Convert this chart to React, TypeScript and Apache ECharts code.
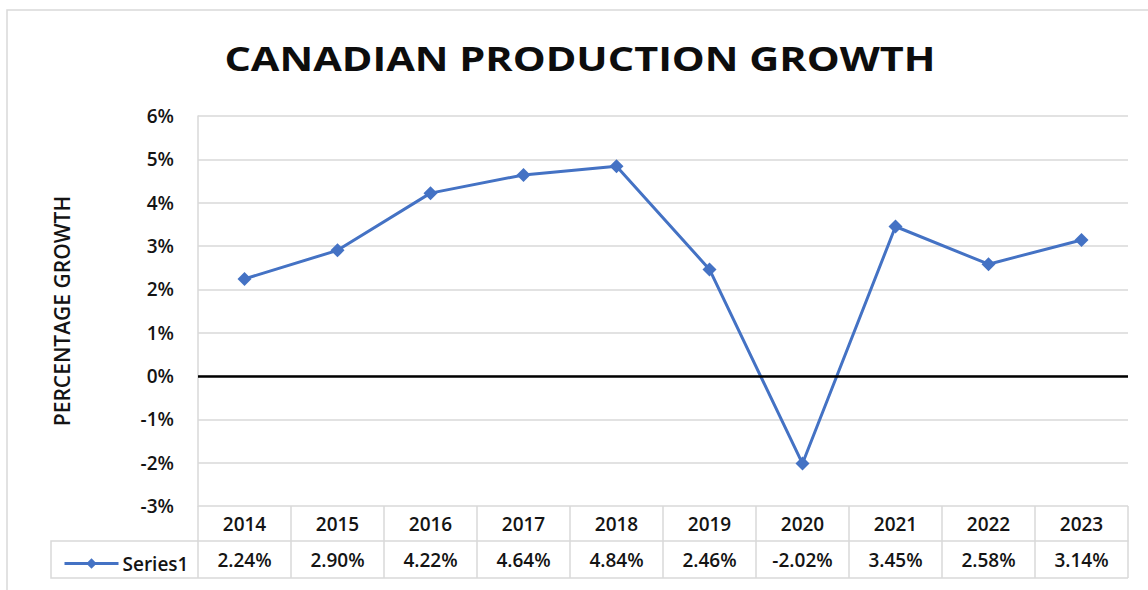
import React, { useEffect, useRef } from "react";
import * as echarts from "echarts";

const title = "CANADIAN PRODUCTION GROWTH";
const yAxisTitle = "PERCENTAGE GROWTH";
const seriesName = "Series1";
const categories = ["2014", "2015", "2016", "2017", "2018", "2019", "2020", "2021", "2022", "2023"];
const values = [2.24, 2.9, 4.22, 4.64, 4.84, 2.46, -2.02, 3.45, 2.58, 3.14];
const yMin = -3;
const yMax = 6;
const yStep = 1;

const FONT = "'Open Sans', 'Noto Sans', sans-serif";
const GRID = "#d9d9d9";
const TEXT = "#141414";
const BLUE = "#4472C4";

export default function App() {
  const ref = useRef<HTMLDivElement>(null);
  useEffect(() => {
    if (!ref.current) return;
    const chart = echarts.init(ref.current, undefined, { renderer: "svg" });
    const gridLeft = 198, gridTop = 116, gridRight = 20, gridBottom = 84;
    const plotBottom = 590 - gridBottom;
    chart.setOption({
      animation: false,
      backgroundColor: "#ffffff",
      textStyle: { fontFamily: FONT },
      legend: {
        left: 58,
        top: plotBottom + 43,
        itemWidth: 54,
        itemHeight: 13,
        itemGap: 4,
        lineStyle: { width: 3 },
        textStyle: { fontFamily: FONT, fontSize: 19, fontWeight: 600, color: TEXT, padding: [0, 0, 0, -1] },
        data: [seriesName],
      },
      grid: { left: gridLeft, top: gridTop, right: gridRight, bottom: gridBottom, containLabel: false },
      xAxis: [
        {
          type: "category",
          data: categories,
          position: "bottom",
          boundaryGap: true,
          axisLine: { show: false, onZero: false },
          axisTick: { show: true, length: 35, lineStyle: { color: GRID, width: 1.5 } },
          axisLabel: { margin: 8, fontFamily: FONT, fontSize: 19, fontWeight: 600, color: TEXT },
          splitLine: { show: false },
        },
        {
          type: "category",
          data: values.map((v) => v.toFixed(2) + "%"),
          position: "bottom",
          offset: 35,
          boundaryGap: true,
          axisLine: { show: true, onZero: false, lineStyle: { color: GRID, width: 1.5 } },
          axisTick: { show: true, length: 37, lineStyle: { color: GRID, width: 1.5 } },
          axisLabel: { margin: 9, fontFamily: FONT, fontSize: 19, fontWeight: 600, color: TEXT },
          splitLine: { show: false },
        },
      ],
      yAxis: {
        type: "value",
        min: yMin,
        max: yMax,
        interval: yStep,
        name: yAxisTitle,
        nameLocation: "middle",
        nameGap: 126,
        nameTextStyle: { fontFamily: FONT, fontSize: 21, fontWeight: 600, color: TEXT },
        axisLine: { show: true, lineStyle: { color: GRID, width: 1.5 } },
        axisTick: { show: false },
        axisLabel: { margin: 24, formatter: "{value}%", fontFamily: FONT, fontSize: 19, fontWeight: 600, color: TEXT },
        splitLine: { show: true, lineStyle: { color: GRID, width: 1.5 } },
      },
      series: [
        {
          name: seriesName,
          type: "line",
          xAxisIndex: 0,
          data: values,
          symbol: "diamond",
          symbolSize: 14,
          lineStyle: { color: BLUE, width: 3 },
          itemStyle: { color: BLUE },
          markLine: {
            silent: true,
            symbol: "none",
            label: { show: false },
            lineStyle: { color: "#000000", width: 2.5, type: "solid" },
            data: [{ yAxis: 0 }],
          },
          z: 3,
        },
      ],
      graphic: [
        {
          type: "rect",
          shape: { x: 7, y: 10, width: 1160, height: 600 },
          style: { fill: "none", stroke: GRID, lineWidth: 1.5 },
          silent: true,
        },
        {
          type: "polyline",
          shape: { points: [[gridLeft, plotBottom + 35], [51, plotBottom + 35], [51, plotBottom + 72], [1148 - gridRight, plotBottom + 72]] },
          style: { fill: "none", stroke: GRID, lineWidth: 1.5 },
          silent: true,
        },
        {
          type: "text",
          x: 580,
          y: 58,
          scaleX: 1.22,
          style: {
            text: title,
            align: "center",
            verticalAlign: "middle",
            fontFamily: FONT,
            fontSize: 34,
            fontWeight: "bold",
            fill: "#0d0d0d",
          },
          silent: true,
        },
      ],
    });
    return () => chart.dispose();
  }, []);
  return <div ref={ref} style={{ position: "fixed", left: 0, top: 0, width: 1148, height: 590 }} />;
}
